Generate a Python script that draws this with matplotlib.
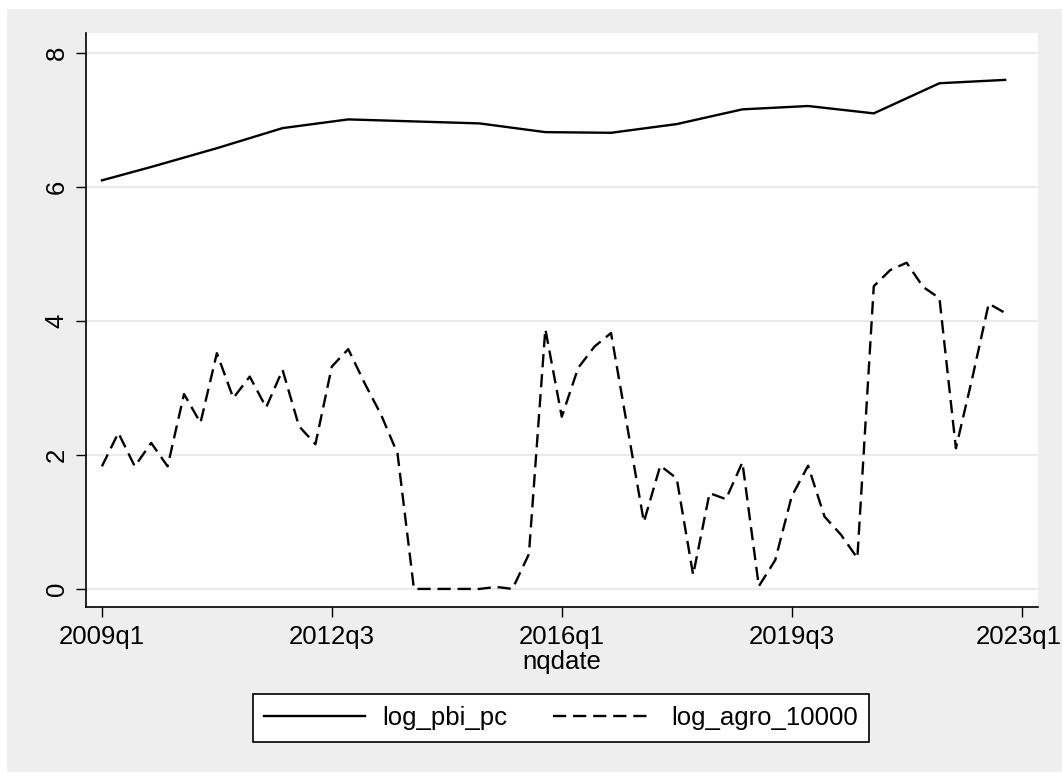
import matplotlib
matplotlib.use("Agg")
import matplotlib.pyplot as plt
from matplotlib.patches import Rectangle
from matplotlib.transforms import ScaledTranslation

# Quarterly index: 0 = 2009q1
quarters_agro = list(range(56))
log_agro_10000 = [
    1.83, 2.33, 1.83, 2.18, 1.83, 2.91, 2.48, 3.52, 2.85, 3.17,
    2.71, 3.27, 2.43, 2.16, 3.32, 3.58, 3.07, 2.60, 2.02, 0.00,
    0.00, 0.00, 0.00, 0.00, 0.03, 0.00, 0.52, 3.88, 2.57, 3.30,
    3.62, 3.82, 2.41, 1.00, 1.84, 1.65, 0.21, 1.43, 1.34, 1.89,
    0.04, 0.43, 1.38, 1.84, 1.08, 0.81, 0.46, 4.52, 4.76, 4.87,
    4.51, 4.34, 2.10, 3.15, 4.26, 4.12,
]

quarters_pbi = [0, 3, 7, 11, 15, 19, 23, 27, 31, 35, 39, 43, 47, 51, 55]
log_pbi_pc = [6.10, 6.30, 6.58, 6.88, 7.01, 6.98, 6.95, 6.82, 6.81,
              6.94, 7.16, 7.21, 7.10, 7.55, 7.60]

xtick_pos = [0, 14, 28, 42, 56]
xtick_labels = ["2009q1", "2012q3", "2016q1", "2019q3", "2023q1"]
ytick_pos = [0, 2, 4, 6, 8]

plt.rcParams["font.family"] = ["Liberation Sans", "DejaVu Sans"]
FS = 18.5

W, H = 1062, 774
fig = plt.figure(figsize=(W / 100, H / 100), dpi=100, facecolor="white")

# graph region background
fig.patches.append(Rectangle((7 / W, 2 / H), (W - 7) / W, (H - 11) / H,
                             transform=fig.transFigure, facecolor="#eeeeee",
                             edgecolor="none", zorder=-10))

left, right = 85.5 / W, 1038 / W
bottom, top = 1 - 607 / H, 1 - 33 / H
ax = fig.add_axes([left, bottom, right - left, top - bottom])
ax.set_facecolor("white")

ax.plot(quarters_pbi, log_pbi_pc, color="black", lw=1.7,
        solid_joinstyle="miter", label="log_pbi_pc")
ax.plot(quarters_agro, log_agro_10000, color="black", lw=1.7,
        dashes=(5.6, 2.9), label="log_agro_10000")

ax.set_xlim(-1, 57)
ax.set_ylim(-0.27, 8.30)

ax.set_xticks(xtick_pos)
ax.set_xticklabels(xtick_labels)
ax.set_yticks(ytick_pos)
ax.set_yticklabels([str(v) for v in ytick_pos], rotation=90, va="center")

ax.tick_params(axis="both", length=7, width=1.0, color="black",
               labelsize=FS, labelcolor="black")
ax.tick_params(axis="x", pad=6)
ax.tick_params(axis="y", pad=5)

# keep the last date label inside the canvas
last = ax.get_xticklabels()[-1]
last.set_transform(last.get_transform() +
                   ScaledTranslation(-3 / 100, 0, fig.dpi_scale_trans))

ax.grid(axis="y", color="#e8e8e8", lw=1.3)
ax.set_axisbelow(True)

for side in ("top", "right"):
    ax.spines[side].set_visible(False)
for side in ("left", "bottom"):
    ax.spines[side].set_linewidth(1.2)
    ax.spines[side].set_color("black")

ax.set_xlabel("nqdate", fontsize=FS, labelpad=1)

leg = fig.legend(loc="center", bbox_to_anchor=(561 / W, 1 - 718 / H),
                 ncol=2, fontsize=FS, frameon=True, fancybox=False,
                 edgecolor="black", facecolor="white", framealpha=1,
                 handlelength=3.9, handletextpad=0.7, columnspacing=1.75,
                 borderpad=0.45, borderaxespad=0)
leg.get_frame().set_linewidth(1.2)

fig.savefig("out.png", dpi=100, facecolor=fig.get_facecolor())
